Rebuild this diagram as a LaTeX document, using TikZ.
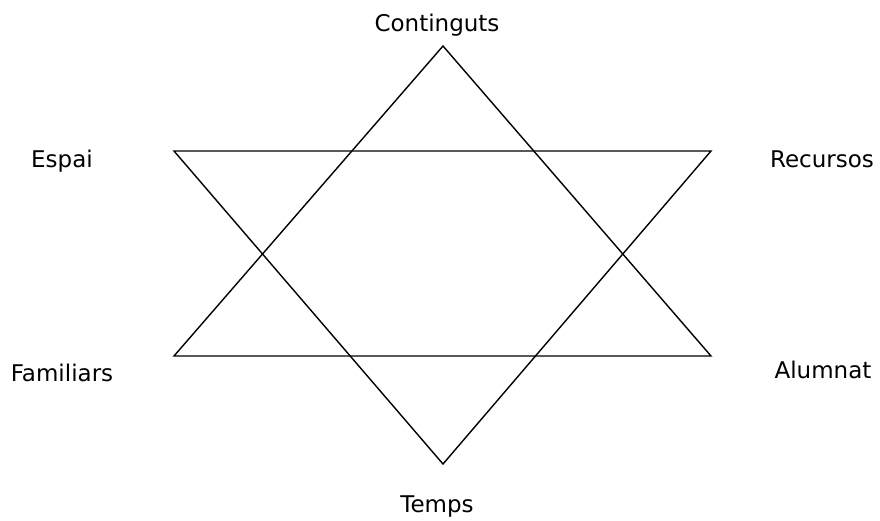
\documentclass[tikz,border=0pt]{standalone}
\usepackage{fontspec}
\setmainfont{DejaVu Sans}
\usetikzlibrary{positioning}
\definecolor{starc}{HTML}{000000}

\begin{document}
\begin{tikzpicture}[
  x=1pt, y=-1pt,
  font=\fontsize{23}{27}\selectfont,
  lbl/.style={anchor=base, inner sep=0pt, text=starc},
  edge/.style={draw=starc, line width=1.4pt, line join=miter},
]
\useasboundingbox (0,0) rectangle (880,520);

% ---- star vertices ----
\coordinate (top) at (443,46);
\coordinate (bot) at (443,464);
\coordinate (ul)  at (174,151);
\coordinate (ur)  at (711,151);
\coordinate (ll)  at (174,356);
\coordinate (lr)  at (711,356);

% ---- two triangles ----
\draw[edge] (top) -- (lr) -- (ll) -- cycle;
\draw[edge] (bot) -- (ul) -- (ur) -- cycle;

% ---- labels ----
\node[lbl] (cont) at (437,31)  {Continguts};
\node[lbl] (esp)  at (62,167)  {Espai};
\node[lbl] (rec)  at (822,167) {Recursos};
\node[lbl] (fam)  at (62,381)  {Familiars};
\node[lbl] (alu)  at (823,378) {Alumnat};
\node[lbl] (tem)  at (437,512) {Temps};
\end{tikzpicture}
\end{document}
